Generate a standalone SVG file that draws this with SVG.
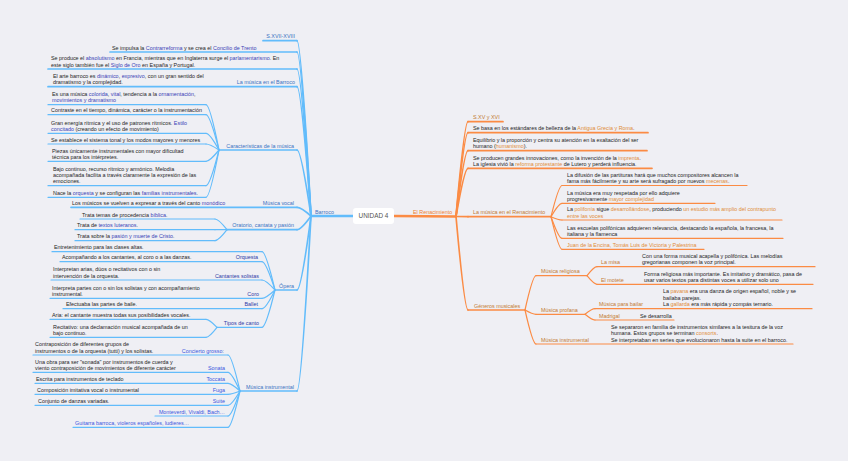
<svg xmlns="http://www.w3.org/2000/svg" width="848" height="461" viewBox="0 0 848 461">
<style>
text{font-family:"Liberation Sans",Arial,sans-serif;font-size:5.4px;fill:#1e1e1e}
.tb{fill:#3a72c2}
.t3{fill:#2e3aa6}
.t4{fill:#3a57e0}
.hb{fill:#3a3fb6}
.to{fill:#c27a33}
.tor{fill:#f07f2e}
.ho{fill:#e08c38}
.e{text-anchor:end}
.lb1,.lb2,.lb3,.lo1,.lo2,.lo3{fill:none;stroke-linecap:round}
.lb1{stroke:#62bcfb;stroke-width:2.4}
.lb2{stroke:#62bcfb;stroke-width:1.7}
.lb3{stroke:#62bcfb;stroke-width:1.2}
.lo1{stroke:#fb8b44;stroke-width:2.4}
.lo2{stroke:#fb8b44;stroke-width:1.7}
.lo3{stroke:#fb8b44;stroke-width:1.2}
</style>
<rect width="848" height="461" fill="#efeff4"/>

<g id="connectors">
<path class="lb1" d="M311,216 L353,216"/>
<path class="lo1" d="M394,216 L456,216.5"/>
<!-- Barroco children -->
<path class="lb2" d="M297,40.7 Q301.2,40.7 311,216"/>
<path class="lb2" d="M297,52 Q301.2,52 311,216"/>
<path class="lb2" d="M297,69 Q301.2,69 311,216"/>
<path class="lb2" d="M297,86.7 Q301.2,86.7 311,216"/>
<path class="lb2" d="M297,150 Q301.2,150 311,216"/>
<path class="lb2" d="M297,207.3 Q301.2,207.3 311,216"/>
<path class="lb2" d="M297,229.7 Q301.2,229.7 311,216"/>
<path class="lb2" d="M297,290 Q301.2,290 311,216"/>
<path class="lb2" d="M297,391 Q301.2,391 311,216"/>
<!-- Caracteristicas -->
<path class="lb3" d="M206,104.7 Q209.9,104.7 219,150"/>
<path class="lb3" d="M206,114.7 Q209.9,114.7 219,150"/>
<path class="lb3" d="M206,133.3 Q209.9,133.3 219,150"/>
<path class="lb3" d="M206,144 Q209.9,144 219,150"/>
<path class="lb3" d="M206,161.3 Q209.9,161.3 219,150"/>
<path class="lb3" d="M206,185.7 Q209.9,185.7 219,150"/>
<path class="lb3" d="M206,197.3 Q209.9,197.3 219,150"/>
<!-- Oratorio -->
<path class="lb3" d="M215,219 Q218.6,219 227,229.7"/>
<path class="lb3" d="M215,229.7 L227,229.7"/>
<path class="lb3" d="M215,240.7 Q218.6,240.7 227,229.7"/>
<!-- Opera -->
<path class="lb3" d="M262,251.7 Q265.9,251.7 275,290"/>
<path class="lb3" d="M262,261.7 Q265.9,261.7 275,290"/>
<path class="lb3" d="M262,280 Q265.9,280 275,290"/>
<path class="lb3" d="M262,298.3 Q265.9,298.3 275,290"/>
<path class="lb3" d="M262,308.7 Q265.9,308.7 275,290"/>
<path class="lb3" d="M262,327.3 Q265.9,327.3 275,290"/>
<!-- Tipos de canto -->
<path class="lb3" d="M206,319.3 Q209.3,319.3 217,327.3"/>
<path class="lb3" d="M206,337.3 Q209.3,337.3 217,327.3"/>
<!-- Musica instrumental -->
<path class="lb3" d="M228,355 Q231.6,355 240,391"/>
<path class="lb3" d="M228,372.3 Q231.6,372.3 240,391"/>
<path class="lb3" d="M228,383.3 Q231.6,383.3 240,391"/>
<path class="lb3" d="M228,394.3 Q231.6,394.3 240,391"/>
<path class="lb3" d="M228,405.3 Q231.6,405.3 240,391"/>
<path class="lb3" d="M228,416 Q231.6,416 240,391"/>
<path class="lb3" d="M228,427.3 Q231.6,427.3 240,391"/>
<!-- Renacimiento children -->
<path class="lo2" d="M468,121.7 Q464.4,121.7 456,216.5"/>
<path class="lo2" d="M468,132.7 Q464.4,132.7 456,216.5"/>
<path class="lo2" d="M468,150.7 Q464.4,150.7 456,216.5"/>
<path class="lo2" d="M468,168.3 Q464.4,168.3 456,216.5"/>
<path class="lo2" d="M468,216.7 L456,216.5"/>
<path class="lo2" d="M468,310 Q464.4,310 456,216.5"/>
<!-- Musica en el Renacimiento -->
<path class="lo3" d="M562,185.5 Q558.7,185.5 551,216.7"/>
<path class="lo3" d="M562,203.3 Q558.7,203.3 551,216.7"/>
<path class="lo3" d="M562,220 Q558.7,220 551,216.7"/>
<path class="lo3" d="M562,238.3 Q558.7,238.3 551,216.7"/>
<path class="lo3" d="M562,249.3 Q558.7,249.3 551,216.7"/>
<!-- Generos -->
<path class="lo3" d="M536,275.7 Q532.7,275.7 525,310"/>
<path class="lo3" d="M536,314.3 Q532.7,314.3 525,310"/>
<path class="lo3" d="M536,344 Q532.7,344 525,310"/>
<path class="lo3" d="M597,266.7 Q594,266.7 587,275.7"/>
<path class="lo3" d="M597,284.3 Q594,284.3 587,275.7"/>
<path class="lo3" d="M595,308.7 Q592,308.7 585,314.3"/>
<path class="lo3" d="M595,320 Q592,320 585,314.3"/>
</g>

<g id="n-center"><rect x="353" y="208" width="41" height="16" rx="3" fill="#ffffff"/><text x="373.5" y="218.3" text-anchor="middle" style="font-size:6.4px;fill:#555">UNIDAD 4</text></g>

<!-- LEFT: Barroco -->
<g id="n-barroco"><text class="tb" x="315" y="213.8">Barroco</text></g>
<g id="n-sxvii"><line class="lb2" x1="263" y1="40.7" x2="297" y2="40.7"/><text class="tb e" x="295" y="38.4">S.XVII-XVIII</text></g>
<g id="n-contrarreforma"><line class="lb2" x1="110" y1="52" x2="297" y2="52"/><text x="112" y="49.7">Se impulsa la <tspan class="hb">Contrarreforma</tspan> y se crea el <tspan class="hb">Concilio de Trento</tspan></text></g>
<g id="n-absolutismo"><line class="lb2" x1="48" y1="69" x2="297" y2="69"/><text x="51" y="60.3">Se produce el <tspan class="hb">absolutismo</tspan> en Francia, mientras que en Inglaterra surge el <tspan class="hb">parlamentarismo</tspan>. En</text><text x="51" y="66.7">este siglo también fue el <tspan class="hb">Siglo de Oro</tspan> en España y Portugal.</text></g>
<g id="n-musica-barroco"><line class="lb2" x1="48" y1="86.7" x2="297" y2="86.7"/><text x="53" y="78">El arte barroco es <tspan class="hb">dinámico</tspan>, <tspan class="hb">expresivo</tspan>, con un gran sentido del</text><text x="53" y="84.4">dramatismo y la complejidad.</text><text class="tb e" x="295" y="84.4">La música en el Barroco</text></g>

<g id="n-caracteristicas"><line class="lb2" x1="219" y1="150" x2="297" y2="150"/><text class="tb e" x="294" y="147.7">Características de la música</text></g>
<g id="n-c1"><line class="lb3" x1="48" y1="104.7" x2="206" y2="104.7"/><text x="52" y="96">Es una música <tspan class="hb">colorida</tspan>, <tspan class="hb">vital</tspan>, tendencia a la <tspan class="hb">ornamentación</tspan>,</text><text x="52" y="102.4"><tspan class="hb">movimientos y dramatismo</tspan></text></g>
<g id="n-c2"><line class="lb3" x1="48" y1="114.7" x2="206" y2="114.7"/><text x="51" y="112.4">Contraste en el tiempo, dinámica, carácter o la instrumentación</text></g>
<g id="n-c3"><line class="lb3" x1="48" y1="133.3" x2="206" y2="133.3"/><text x="51" y="124.6">Gran energía rítmica y el uso de patrones rítmicos. <tspan class="hb">Estilo</tspan></text><text x="51" y="131">
<tspan class="hb">concitado</tspan> (creando un efecto de movimiento)</text></g>
<g id="n-c4"><line class="lb3" x1="48" y1="144" x2="206" y2="144"/><text x="51" y="141.7">Se establece el sistema tonal y los modos mayores y menores</text></g>
<g id="n-c5"><line class="lb3" x1="48" y1="161.3" x2="206" y2="161.3"/><text x="52" y="152.6">Piezas únicamente instrumentales con mayor dificultad</text><text x="52" y="159">técnica para los intérpretes.</text></g>
<g id="n-c6"><line class="lb3" x1="48" y1="185.7" x2="206" y2="185.7"/><text x="53" y="170.6">Bajo continuo, recurso rítmico y armónico. Melodía</text><text x="53" y="177">acompañada facilita a través claramente la expresión de las</text><text x="53" y="183.4">emociones.</text></g>
<g id="n-c7"><line class="lb3" x1="48" y1="197.3" x2="206" y2="197.3"/><text x="53" y="195">Nace la <tspan class="hb">orquesta</tspan> y se configuran las <tspan class="hb">familias instrumentales</tspan>.</text></g>

<g id="n-vocal"><line class="lb2" x1="71" y1="207.3" x2="297" y2="207.3"/><text x="72" y="205">Los músicos se vuelven a expresar a través del canto <tspan class="hb">monódico</tspan></text><text class="tb e" x="294" y="205">Música vocal</text></g>

<g id="n-oratorio"><line class="lb2" x1="227" y1="229.7" x2="297" y2="229.7"/><text class="tb e" x="294" y="227.4">Oratorio, cantata y pasión</text></g>
<g id="n-o1"><line class="lb3" x1="80" y1="219" x2="215" y2="219"/><text x="82" y="216.7">Trata temas de procedencia <tspan class="hb">bíblica</tspan>.</text></g>
<g id="n-o2"><line class="lb3" x1="75" y1="229.7" x2="215" y2="229.7"/><text x="77" y="227.4">Trata de <tspan class="hb">textos luteranos</tspan>.</text></g>
<g id="n-o3"><line class="lb3" x1="75" y1="240.7" x2="215" y2="240.7"/><text x="77" y="238.4">Trata sobre la <tspan class="hb">pasión y muerte de Cristo</tspan>.</text></g>

<g id="n-opera"><line class="lb2" x1="275" y1="290" x2="297" y2="290"/><text class="tb e" x="294" y="287.7">Ópera</text></g>
<g id="n-op1"><line class="lb3" x1="52" y1="251.7" x2="262" y2="251.7"/><text x="54" y="249.4">Entretenimiento para las clases altas.</text></g>
<g id="n-op2"><line class="lb3" x1="60" y1="261.7" x2="262" y2="261.7"/><text x="62" y="259.4">Acompañando a los cantantes, al coro o a las danzas.</text><text class="t3 e" x="258" y="259.4">Orquesta</text></g>
<g id="n-op3"><line class="lb3" x1="51" y1="280" x2="262" y2="280"/><text x="53" y="271.3">Interpretan arias, dúos o recitativos con o sin</text><text x="53" y="277.7">intervención de la orquesta.</text><text class="t3 e" x="259" y="277.7">Cantantes solistas</text></g>
<g id="n-op4"><line class="lb3" x1="50" y1="298.3" x2="262" y2="298.3"/><text x="52" y="289.6">Interpreta partes con o sin los solistas y con acompañamiento</text><text x="52" y="296">instrumental.</text><text class="t3 e" x="259" y="296">Coro</text></g>
<g id="n-op5"><line class="lb3" x1="63" y1="308.7" x2="262" y2="308.7"/><text x="66" y="306.4">Efectuaba las partes de baile.</text><text class="t3 e" x="258" y="306.4">Ballet</text></g>
<g id="n-tipos"><line class="lb3" x1="217" y1="327.3" x2="262" y2="327.3"/><text class="t3 e" x="259" y="325">Tipos de canto</text></g>
<g id="n-t1"><line class="lb3" x1="50" y1="319.3" x2="206" y2="319.3"/><text x="52" y="317">Aria: el cantante muestra todas sus posibilidades vocales.</text></g>
<g id="n-t2"><line class="lb3" x1="50" y1="337.3" x2="206" y2="337.3"/><text x="53" y="328.6">Recitativo: una declamación musical acompañada de un</text><text x="53" y="335">bajo continuo.</text></g>

<g id="n-instrumental"><line class="lb2" x1="240" y1="391" x2="297" y2="391"/><text class="tb e" x="294" y="388.7">Música instrumental</text></g>
<g id="n-i1"><line class="lb3" x1="33" y1="355" x2="228" y2="355"/><text x="35" y="346.3">Contraposición de diferentes grupos de</text><text x="35" y="352.7">instrumentos o de la orquesta (tutti) y los solistas.</text><text class="t4 e" x="224" y="352.7">Concierto grosso:</text></g>
<g id="n-i2"><line class="lb3" x1="33" y1="372.3" x2="228" y2="372.3"/><text x="35" y="363.6">Una obra para ser "sonada" por instrumentos de cuerda y</text><text x="35" y="370">viento contraposición de movimientos de diferente carácter</text><text class="t4 e" x="225" y="370">Sonata</text></g>
<g id="n-i3"><line class="lb3" x1="35" y1="383.3" x2="228" y2="383.3"/><text x="36" y="381">Escrita para instrumentos de teclado</text><text class="t4 e" x="225" y="381">Toccata</text></g>
<g id="n-i4"><line class="lb3" x1="35" y1="394.3" x2="228" y2="394.3"/><text x="37" y="392">Composición imitativa vocal o instrumental</text><text class="t4 e" x="225" y="392">Fuga</text></g>
<g id="n-i5"><line class="lb3" x1="35" y1="405.3" x2="228" y2="405.3"/><text x="38" y="403">Conjunto de danzas variadas.</text><text class="t4 e" x="225" y="403">Suite</text></g>
<g id="n-i6"><line class="lb3" x1="155" y1="416" x2="228" y2="416"/><text class="t4 e" x="225" y="413.7">Monteverdi, Vivaldi, Bach…</text></g>
<g id="n-i7"><line class="lb3" x1="73" y1="427.3" x2="228" y2="427.3"/><text class="t4" x="75" y="425">Guitarra barroca, violeros españoles, ludieres…</text></g>

<!-- RIGHT: Renacimiento -->
<g id="n-renacimiento"><text class="tor" x="413" y="213.8">El Renacimiento</text></g>
<g id="n-sxv"><line class="lo2" x1="468" y1="121.7" x2="503" y2="121.7"/><text class="to" x="473" y="119.4">S.XV y XVI</text></g>
<g id="n-r1"><line class="lo2" x1="468" y1="132.7" x2="648" y2="132.7"/><text x="473" y="130.4">Se basa en los estándares de belleza de la <tspan class="ho">Antigua Grecia y Roma</tspan>.</text></g>
<g id="n-r2"><line class="lo2" x1="468" y1="150.7" x2="647" y2="150.7"/><text x="473" y="142">Equilibrio y la proporción y centra su atención en la exaltación del ser</text><text x="473" y="148.4">humano (<tspan class="ho">humanismo</tspan>).</text></g>
<g id="n-r3"><line class="lo2" x1="468" y1="168.3" x2="652" y2="168.3"/><text x="473" y="159.6">Se producen grandes innovaciones, como la invención de la <tspan class="ho">imprenta</tspan>.</text><text x="473" y="166">La iglesia vivió la <tspan class="ho">reforma protestante</tspan> de Lutero y perderá influencia.</text></g>

<g id="n-musica-ren"><line class="lo2" x1="468" y1="216.7" x2="551" y2="216.7"/><text class="to" x="473" y="214.4">La música en el Renacimiento</text></g>
<g id="n-m1"><line class="lo3" x1="562" y1="185.5" x2="747" y2="185.5"/><text x="567" y="176.8">La difusión de las partituras hará que muchos compositores alcancen la</text><text x="567" y="183.2">fama más fácilmente y su arte será sufragado por nuevos <tspan class="ho">mecenas</tspan>.</text></g>
<g id="n-m2"><line class="lo3" x1="562" y1="203.3" x2="715" y2="203.3"/><text x="567" y="194.6">La música era muy respetada por ello adquiere</text><text x="567" y="201">progresivamente <tspan class="ho">mayor complejidad</tspan></text></g>
<g id="n-m3"><line class="lo3" x1="562" y1="220" x2="782" y2="220"/><text x="567" y="211.3">La <tspan class="ho">polifonía</tspan> sigue <tspan class="ho">desarrollándose</tspan>, produciendo <tspan class="ho">un estudio más amplio del contrapunto</tspan></text><text x="567" y="217.7"><tspan class="ho">entre las voces</tspan></text></g>
<g id="n-m4"><line class="lo3" x1="562" y1="238.3" x2="783" y2="238.3"/><text x="567" y="229.6">Las escuelas polifónicas adquieren relevancia, destacando la española, la francesa, la</text><text x="567" y="236">italiana y la flamenca</text></g>
<g id="n-m5"><line class="lo3" x1="562" y1="249.3" x2="704" y2="249.3"/><text class="ho" x="567" y="247">Juan de la Encina, Tomás Luis de Victoria y Palestrina</text></g>

<g id="n-generos"><line class="lo2" x1="468" y1="310" x2="525" y2="310"/><text class="to" x="474" y="307.7">Géneros musicales</text></g>
<g id="n-religiosa"><line class="lo3" x1="536" y1="275.7" x2="587" y2="275.7"/><text class="to" x="541" y="273.4">Música religiosa</text></g>
<g id="n-misa"><line class="lo3" x1="597" y1="266.7" x2="815" y2="266.7"/><text class="to" x="601" y="264.4">La misa</text><text x="642" y="257.8">Con una forma musical acapella y polifónica. Las melodías</text><text x="642" y="264.4">gregorianas componen la voz principal.</text></g>
<g id="n-motete"><line class="lo3" x1="597" y1="284.3" x2="813" y2="284.3"/><text class="to" x="601" y="282.4">El motete</text><text x="644" y="275.8">Forma religiosa más importante. Es imitativo y dramático, pasa de</text><text x="644" y="282.4">usar varios textos para distintas voces a utilizar solo uno</text></g>
<g id="n-profana"><line class="lo3" x1="536" y1="314.3" x2="585" y2="314.3"/><text class="to" x="541" y="312.2">Música profana</text></g>
<g id="n-bailar"><line class="lo3" x1="595" y1="308.7" x2="812" y2="308.7"/><text class="to" x="599" y="306.2">Música para bailar</text><text x="663" y="293.4">La <tspan class="ho">pavana</tspan> era una danza de origen español, noble y se</text><text x="663" y="299.8">bailaba parejas.</text><text x="663" y="306.2">La <tspan class="ho">gallarda</tspan> era más rápida y compás ternario.</text></g>
<g id="n-madrigal"><line class="lo3" x1="595" y1="320" x2="674" y2="320"/><text class="to" x="599" y="317.6">Madrigal</text><text x="640" y="317.6">Se desarrolla</text></g>
<g id="n-instr-ren"><line class="lo3" x1="536" y1="344" x2="793" y2="344"/><text class="to" x="541" y="341.7">Música instrumental</text><text x="611" y="328.6">Se separaron en familia de instrumentos similares a la tesitura de la voz</text><text x="611" y="335.1">humana. Estos grupos se terminan <tspan class="ho">consorts</tspan>.</text><text x="611" y="341.7">Se interpretaban en series que evolucionaron hasta la suite en el barroco.</text></g>
</svg>
